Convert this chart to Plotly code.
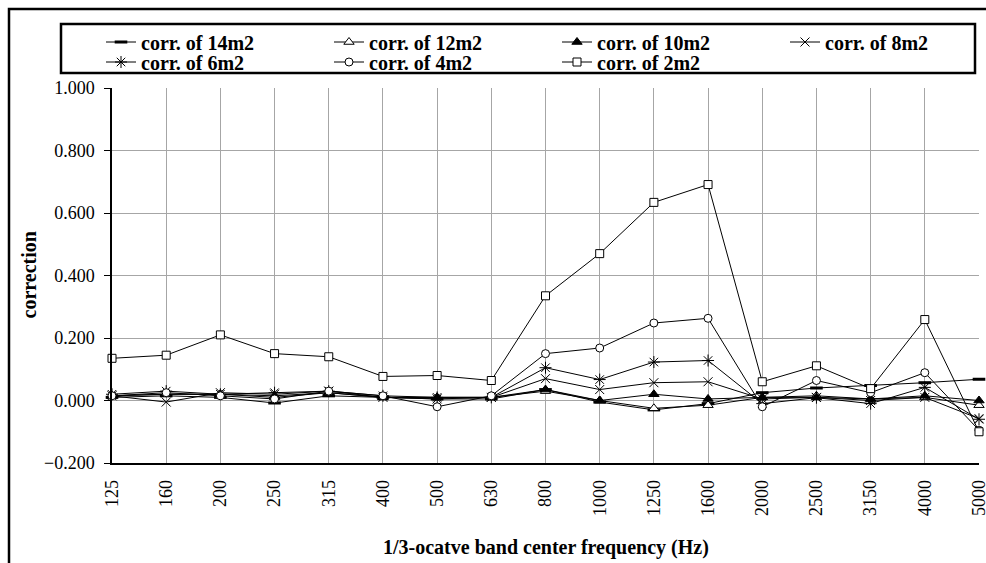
import plotly.graph_objects as go

categories = ["125", "160", "200", "250", "315", "400", "500", "630", "800",
              "1000", "1250", "1600", "2000", "2500", "3150", "4000", "5000"]

corr_14m2 = [0.010, 0.015, 0.010, -0.008, 0.015, 0.010, 0.005, 0.005, 0.035,
             -0.005, -0.030, -0.010, 0.025, 0.040, 0.048, 0.057, 0.068]
corr_12m2 = [0.015, 0.020, 0.020, 0.010, 0.025, 0.010, 0.010, 0.010, 0.030,
             0.000, -0.025, -0.015, 0.010, 0.015, 0.005, 0.010, -0.015]
corr_10m2 = [0.015, 0.020, 0.020, 0.015, 0.025, 0.010, 0.010, 0.010, 0.035,
             0.000, 0.020, 0.005, 0.010, 0.010, 0.005, 0.015, 0.000]
corr_8m2 = [0.015, -0.005, 0.025, 0.020, 0.030, 0.010, 0.005, 0.010, 0.070,
            0.035, 0.057, 0.060, 0.005, 0.010, 0.000, 0.010, -0.058]
corr_6m2 = [0.020, 0.030, 0.020, 0.025, 0.030, 0.015, 0.010, 0.010, 0.105,
            0.067, 0.123, 0.128, -0.010, 0.009, -0.010, 0.042, -0.060]
corr_4m2 = [0.015, 0.025, 0.015, 0.005, 0.030, 0.015, -0.020, 0.015, 0.150,
            0.168, 0.248, 0.263, -0.020, 0.064, 0.025, 0.089, -0.095]
corr_2m2 = [0.135, 0.145, 0.210, 0.150, 0.140, 0.077, 0.080, 0.064, 0.335,
            0.470, 0.634, 0.691, 0.060, 0.111, 0.038, 0.259, -0.100]

y_ticks = [-0.2, 0.0, 0.2, 0.4, 0.6, 0.8, 1.0]

series = [
    ("corr. of 14m2", corr_14m2, dict(symbol="line-ew-open", size=9, color="black", line=dict(color="black", width=3)), "legend"),
    ("corr. of 12m2", corr_12m2, dict(symbol="triangle-up", size=9, color="white", line=dict(color="black", width=1)), "legend"),
    ("corr. of 10m2", corr_10m2, dict(symbol="triangle-up", size=9, color="black", line=dict(color="black", width=1)), "legend"),
    ("corr. of 8m2", corr_8m2, dict(symbol="x-thin-open", size=9, color="black", line=dict(color="black", width=1)), "legend"),
    ("corr. of 6m2", corr_6m2, dict(symbol="asterisk-open", size=10, color="black", line=dict(color="black", width=1)), "legend2"),
    ("corr. of 4m2", corr_4m2, dict(symbol="circle", size=8, color="white", line=dict(color="black", width=1)), "legend2"),
    ("corr. of 2m2", corr_2m2, dict(symbol="square", size=8, color="white", line=dict(color="black", width=1)), "legend2"),
]

fig = go.Figure()
for name, vals, mk, lg in series:
    fig.add_trace(go.Scatter(
        x=categories, y=vals, name=name, mode="lines+markers",
        line=dict(color="black", width=1), marker=mk, cliponaxis=False,
        legend=lg,
    ))

W, H = 986, 563
L, R, T, B = 112, 7, 88, 100
pw, ph = W - L - R, H - T - B

serif = "Liberation Serif"


def px_x(v):
    return (v - L) / pw


def px_y(v):
    return (H - B - v) / ph


legend_common = dict(
    orientation="h", xanchor="left", yanchor="middle",
    borderwidth=0, bgcolor="rgba(0,0,0,0)",
    entrywidth=183, tracegroupgap=0,
    font=dict(family=serif, size=20, color="black", weight="bold"),
)

fig.update_layout(
    width=W, height=H,
    margin=dict(l=L, r=R, t=T, b=B, autoexpand=False),
    paper_bgcolor="white", plot_bgcolor="white",
    font=dict(family=serif, color="black", size=18),
    showlegend=True,
    legend=dict(x=px_x(101), y=px_y(42), **legend_common),
    legend2=dict(x=px_x(101), y=px_y(62), **legend_common),
    xaxis=dict(
        type="category", range=[0, 16],
        showgrid=True, gridcolor="#a6a6a6", gridwidth=1,
        showline=True, linecolor="black", linewidth=1.5,
        ticks="", tickangle=-90,
        tickfont=dict(family=serif, size=18, color="black"),
        ticklabelstandoff=8,
        zeroline=False,
    ),
    yaxis=dict(
        range=[-0.2, 1.0], tickvals=y_ticks, tickformat=".3f",
        showgrid=True, gridcolor="#a6a6a6", gridwidth=1,
        showline=True, linecolor="black", linewidth=1.5,
        ticks="outside", ticklen=6, tickcolor="black",
        tickfont=dict(family=serif, size=18, color="black"),
        ticklabelstandoff=6,
        zeroline=False,
    ),
    annotations=[
        dict(text="<b>correction</b>", xref="paper", yref="paper",
             x=px_x(28), y=0.5, textangle=-90, showarrow=False,
             font=dict(family=serif, size=20, color="black"),
             xanchor="center", yanchor="middle"),
        dict(text="<b>1/3-ocatve band center frequency (Hz)</b>", xref="paper", yref="paper",
             x=0.5, y=px_y(547), showarrow=False,
             font=dict(family=serif, size=20, color="black"),
             xanchor="center", yanchor="middle"),
    ],
    shapes=[
        dict(type="rect", xref="paper", yref="paper",
             x0=px_x(9), x1=px_x(992), y0=px_y(570), y1=px_y(9),
             line=dict(color="black", width=2.5), fillcolor="rgba(0,0,0,0)", layer="below"),
        dict(type="rect", xref="paper", yref="paper",
             x0=px_x(61), x1=px_x(975), y0=px_y(73), y1=px_y(24),
             line=dict(color="black", width=2.5), fillcolor="white", layer="above"),
    ],
)

fig.write_html("out.html")
